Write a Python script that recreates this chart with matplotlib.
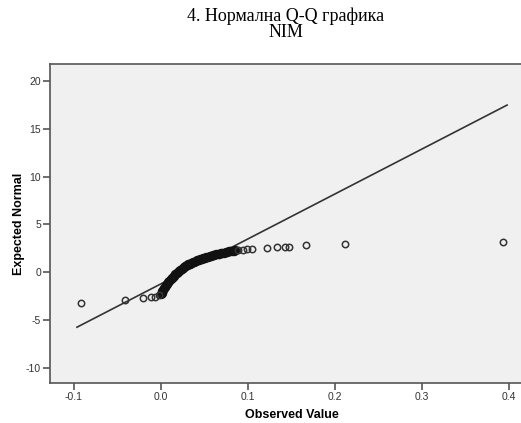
import matplotlib
matplotlib.use("Agg")
import matplotlib.pyplot as plt

plt.rcParams["axes.unicode_minus"] = False

# ---------------- DATA ----------------
# lower tail outliers
low_obs = [-0.0923, -0.0414, -0.0203, -0.0118, -0.0069, -0.0020]
low_exp = [-3.21, -2.93, -2.69, -2.62, -2.59, -2.41]

# dense middle part of the curve
mid_obs = [0.0000, 0.0009, 0.0017, 0.0026, 0.0037, 0.0048, 0.0060, 0.0072,
           0.0085, 0.0098, 0.0110, 0.0124, 0.0138, 0.0152, 0.0166, 0.0179,
           0.0193, 0.0207, 0.0222, 0.0237, 0.0252, 0.0267, 0.0282, 0.0298,
           0.0314, 0.0330, 0.0346, 0.0363, 0.0380, 0.0398, 0.0415, 0.0432,
           0.0449, 0.0468, 0.0486, 0.0505, 0.0523, 0.0541, 0.0560, 0.0578,
           0.0597, 0.0615, 0.0633, 0.0652, 0.0670, 0.0689, 0.0707, 0.0725,
           0.0744, 0.0762, 0.0780, 0.0799, 0.0817, 0.0836, 0.0854]
mid_exp = [-2.30, -2.15, -1.99, -1.83, -1.68, -1.52, -1.36, -1.20,
           -1.05, -0.89, -0.75, -0.62, -0.48, -0.36, -0.23, -0.10,
           0.01, 0.13, 0.23, 0.34, 0.44, 0.53, 0.63, 0.72,
           0.81, 0.89, 0.97, 1.05, 1.12, 1.19, 1.26, 1.32,
           1.38, 1.43, 1.49, 1.54, 1.59, 1.64, 1.69, 1.74,
           1.78, 1.82, 1.86, 1.91, 1.95, 1.99, 2.03, 2.06,
           2.10, 2.14, 2.18, 2.21, 2.24, 2.27, 2.28]

# upper tail outliers
high_obs = [0.0889, 0.0939, 0.0985, 0.1050, 0.1215, 0.1337, 0.1425, 0.1471,
            0.1667, 0.2111, 0.3930]
high_exp = [2.30, 2.34, 2.38, 2.44, 2.51, 2.59, 2.65, 2.69, 2.80, 2.93, 3.14]

# reference line end points
line_x = [-0.0966, 0.398]
line_y = [-5.76, 17.5]

x_ticks = [-0.1, 0.0, 0.1, 0.2, 0.3, 0.4]
y_ticks = [-10, -5, 0, 5, 10, 15, 20]

# ---------------- PLOT ----------------
fig = plt.figure(figsize=(5.21, 4.23), dpi=100)
ax = fig.add_axes([50 / 521, 1 - 383 / 423, 471 / 521, (383 - 64) / 423])
ax.set_facecolor("#f0f0f0")

ax.plot(line_x, line_y, color="#333333", lw=1.2, zorder=2)
# dense band drawn a bit heavier, like the overlapping circles in the original
ax.plot(mid_obs, mid_exp, "o", mfc="none", mec="#111111", ms=5.2,
        mew=1.6, zorder=3)
ax.plot(low_obs + high_obs, low_exp + high_exp, "o", mfc="none",
        mec="#333333", ms=4.6, mew=1.1, zorder=3)

ax.set_xlim(-0.1276, 0.414)
ax.set_ylim(-11.6, 21.8)
ax.set_xticks(x_ticks)
ax.set_xticklabels([f"{v:.1f}" for v in x_ticks])
ax.set_yticks(y_ticks)

for side in ["left", "bottom", "top"]:
    ax.spines[side].set_color("#555555")
    ax.spines[side].set_linewidth(1.2)
ax.spines["right"].set_visible(False)

ax.tick_params(direction="out", length=5, width=1.2, color="#555555",
               labelsize=7.5, labelcolor="#333333", pad=1.5)
for lbl in ax.get_xticklabels() + ax.get_yticklabels():
    lbl.set_family("Liberation Sans")

ax.set_xlabel("Observed Value", family="Liberation Sans", fontweight="bold",
              fontsize=9)
ax.set_ylabel("Expected Normal", family="Liberation Sans", fontweight="bold",
              fontsize=9)
ax.xaxis.set_label_coords((292 - 50) / 471, -(415 - 383) / 319)
ax.yaxis.set_label_coords(-(50 - 19) / 471, 0.5)
ax.xaxis.label.set_va("center")
ax.yaxis.label.set_va("center")

fig.text(0.548, 0.982, "4. Нормална Q-Q графика\nNIM", family="Liberation Serif",
         fontsize=13, ha="center", va="top", linespacing=0.92)

fig.savefig("out.png", dpi=100)
